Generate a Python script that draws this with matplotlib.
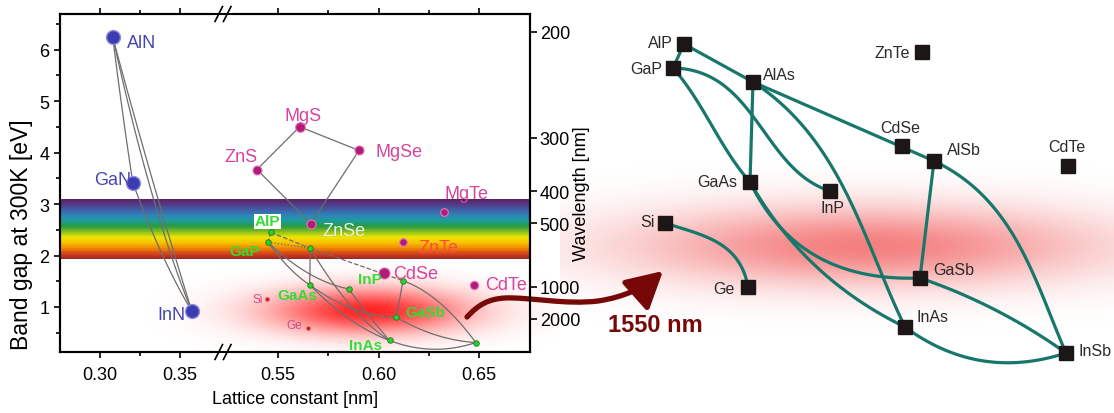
import numpy as np
import matplotlib
matplotlib.use("Agg")
import matplotlib.pyplot as plt
from matplotlib.colors import LinearSegmentedColormap, to_rgb
from matplotlib.patches import FancyArrowPatch
from matplotlib.path import Path
from matplotlib.ticker import FixedLocator

plt.rcParams['font.family'] = ['Liberation Sans', 'DejaVu Sans']

# ---------------- left panel data: lattice constant [nm], band gap at 300K [eV]
nitride_names = ["AlN", "GaN", "InN"]
nitride_a = [0.308, 0.3206, 0.3575]
nitride_eg = [6.24, 3.41, 0.92]

ii_vi_names = ["ZnS", "MgS", "MgSe", "ZnSe", "MgTe", "ZnTe", "CdSe", "CdTe"]
ii_vi_a = [0.5394, 0.5607, 0.5903, 0.5663, 0.6327, 0.6120, 0.6028, 0.6477]
ii_vi_eg = [3.67, 4.50, 4.04, 2.62, 2.84, 2.26, 1.66, 1.43]

iii_v_names = ["AlP", "GaP", "AlAs", "GaAs", "InP", "AlSb", "GaSb", "InAs", "InSb"]
iii_v_a = [0.5463, 0.5449, 0.5660, 0.5657, 0.5852, 0.6122, 0.6089, 0.6055, 0.6485]
iii_v_eg = [2.45, 2.26, 2.14, 1.43, 1.35, 1.51, 0.80, 0.35, 0.31]

iv_names = ["Si", "Ge"]
iv_a = [0.5442, 0.5648]
iv_eg = [1.155, 0.586]

# alloy lines: (end A, end B, bowing [eV], linestyle)
left_edges = [
    ("AlN", "GaN", 0.3, "-"), ("GaN", "InN", 0.6, "-"),
    ("AlN", "InN", 0.4, "-"), ("AlN", "InN", 1.6, "-"),
    ("ZnS", "MgS", 0, "-"), ("MgS", "MgSe", 0, "-"),
    ("MgSe", "ZnSe", 0, "-"), ("ZnS", "ZnSe", 0, "-"),
    ("AlP", "GaP", 0, "--"), ("AlP", "AlAs", 0, "--"), ("GaP", "AlAs", 0, ":"),
    ("AlAs", "AlSb", 0, "--"), ("GaP", "GaAs", 0.3, "-"), ("GaP", "InP", 0.6, "-"),
    ("AlAs", "GaAs", 0, "-"), ("AlAs", "InAs", 0.8, "-"), ("GaAs", "InAs", 0.5, "-"),
    ("GaAs", "GaSb", 0.6, "-"), ("InP", "InAs", 0.1, "-"), ("AlSb", "GaSb", 0, "-"),
    ("AlSb", "InSb", -0.7, "-"), ("GaSb", "InSb", 0.4, "-"), ("InAs", "InSb", 0.6, "-"),
]

wl_ticks = [200, 300, 400, 500, 1000, 2000]
band_range = (1.93, 3.10)
band_colors = ["#a02424", "#d8461a", "#f08c00", "#f8c400", "#ece400", "#86be22",
               "#2a9a3e", "#1c9c98", "#2c86b8", "#3e62a8", "#523c88", "#5c2266"]

# ---------------- right panel (schematic) node positions
node_names = ["AlP", "GaP", "AlAs", "ZnTe", "CdSe", "AlSb", "CdTe", "GaAs",
              "InP", "Si", "Ge", "GaSb", "InAs", "InSb"]
node_x = [684, 673, 753, 922, 902, 934, 1068, 750, 830, 665, 748, 920, 905, 1066]
node_y = [45, 69, 83, 53, 147, 162, 167, 183, 192, 224, 288, 279, 328, 354]
# (A, B, bend near A, bend near B)
right_edges = [
    ("AlP", "GaP", 0, 0), ("AlP", "AlAs", 0, 0), ("GaP", "InP", -50, 25),
    ("GaP", "GaAs", -6, 6), ("AlAs", "GaAs", 0, 0), ("AlAs", "AlSb", 0, 0),
    ("AlAs", "InAs", -45, -10), ("AlSb", "GaSb", 0, 0), ("AlSb", "InSb", -45, -15),
    ("GaAs", "InAs", 22, 22), ("GaAs", "GaSb", 45, 40), ("GaSb", "InSb", -8, -8),
    ("InAs", "InSb", 28, 28), ("Si", "Ge", -12, -32),
]

# ---------------- label placement (pixel offsets, ha)
left_lbl = {
    "AlN": (14, 5, "left"), "GaN": (-2, -3, "right"), "InN": (-6, 3, "right"),
    "ZnS": (-16, -13, "center"), "MgS": (3, -11, "center"), "MgSe": (16, 1, "left"),
    "MgTe": (22, -19, "center"), "ZnSe": (11, 7, "left"), "ZnTe": (16, 5, "left"),
    "CdSe": (9, 0, "left"), "CdTe": (11, 0, "left"),
    "Si": (-4, 0, "right"), "Ge": (-6, -3, "right"),
    "AlP": (-3, -11, "center"), "GaP": (-23, 9, "center"), "GaAs": (-12, 10, "center"),
    "InP": (9, -10, "left"), "GaSb": (9, -5, "left"), "InAs": (-24, 5, "center"),
}
right_lbl = {
    "AlP": (-11, -2, "right"), "GaP": (-11, 1, "right"), "AlAs": (10, -7, "left"),
    "ZnTe": (-12, 0, "right"), "CdSe": (-2, -18, "center"), "AlSb": (13, -11, "left"),
    "CdTe": (-1, -19, "center"), "GaAs": (-13, 0, "right"), "InP": (3, 17, "center"),
    "Si": (-10, -1, "right"), "Ge": (-13, 2, "right"), "GaSb": (13, -8, "left"),
    "InAs": (12, -10, "left"), "InSb": (12, -2, "left"),
}

PX = 72 / 100.0  # pixel -> points
W, H = 1114, 414
fig = plt.figure(figsize=(W / 100, H / 100), dpi=100)

# background canvas in pixel units: glows, arrow, schematic
bg = fig.add_axes([0, 0, 1, 1], zorder=0)
bg.set_xlim(0, W)
bg.set_ylim(H, 0)
bg.axis("off")


def glow(cx, cy, sx, sy, color, peak, extent):
    x0, x1, y0, y1 = extent
    xx, yy = np.meshgrid(np.linspace(x0, x1, 400), np.linspace(y0, y1, 160))
    a = peak * np.exp(-0.5 * ((xx - cx) / sx) ** 2 - 0.5 * ((yy - cy) / sy) ** 2)
    img = np.zeros(xx.shape + (4,))
    img[..., :3] = to_rgb(color)
    img[..., 3] = a
    bg.imshow(img, extent=(x0, x1, y1, y0), origin="upper", aspect="auto",
              interpolation="bilinear", zorder=0)


glow(368, 312, 70, 16, "#ff1818", 0.95, (150, 560, 250, 360))
glow(865, 247, 165, 28, "#ee2a2a", 0.6, (560, 1114, 160, 340))
bg.set_xlim(0, W)
bg.set_ylim(H, 0)

# schematic lines
pos = {n: np.array([x, y], float) for n, x, y in zip(node_names, node_x, node_y)}
t = np.linspace(0, 1, 60)[:, None]
for a, b, b1, b2 in right_edges:
    p0, p3 = pos[a], pos[b]
    d = p3 - p0
    nrm = np.array([-d[1], d[0]]) / np.hypot(*d)
    p1 = p0 + d / 3 + b1 * nrm
    p2 = p0 + 2 * d / 3 + b2 * nrm
    c = (1 - t) ** 3 * p0 + 3 * (1 - t) ** 2 * t * p1 + 3 * (1 - t) * t ** 2 * p2 + t ** 3 * p3
    bg.plot(c[:, 0], c[:, 1], color="#17776b", lw=2.3, solid_capstyle="round", zorder=2)
bg.plot(node_x, node_y, "s", color="#1c1616", ms=9.5, ls="none", zorder=3)
for n, x, y in zip(node_names, node_x, node_y):
    dx, dy, ha = right_lbl[n]
    bg.annotate(n, (x, y), xytext=(dx * PX, -dy * PX), textcoords="offset points",
                ha=ha, va="center", fontsize=11.5, color="#2a2a2a", zorder=4)

# arrow + 1550 nm
verts = [(467, 318), (478, 306), (488, 300), (505, 299),
         (530, 298), (565, 306), (598, 302),
         (625, 298), (645, 288), (663, 272)]
codes = [Path.MOVETO] + [Path.CURVE4] * 9
arr = FancyArrowPatch(path=Path(verts, codes), arrowstyle="-|>,head_length=22,head_width=12",
                      mutation_scale=1, lw=3.8, color="#760808", shrinkA=0, shrinkB=0, zorder=5)
bg.add_patch(arr)
bg.text(655, 326, "1550 nm", fontsize=17, fontweight="bold", color="#760808",
        ha="center", va="center", zorder=5)

# ---------------- left panel: broken lattice-constant axis
a1, b1, a2, b2 = 0.275, 0.377, 0.5225, 0.6755
w1, w2, gap = 163.0, 307.0, 0.01


def fwd(x):
    x = np.asarray(x, float)
    return np.where(x <= b1, (x - a1) / (b1 - a1) * w1,
                    np.where(x >= a2, w1 + gap + (x - a2) / (b2 - a2) * w2,
                             w1 + (x - b1) / (a2 - b1) * gap))


def inv(u):
    u = np.asarray(u, float)
    return np.where(u <= w1, a1 + u / w1 * (b1 - a1),
                    np.where(u >= w1 + gap, a2 + (u - w1 - gap) / w2 * (b2 - a2),
                             b1 + (u - w1) / gap * (a2 - b1)))


ax = fig.add_axes([60 / W, 1 - 353 / H, 470 / W, 338 / H], zorder=1)
ax.patch.set_alpha(0)
ax.set_xscale("function", functions=(fwd, inv))
ax.set_xlim(a1, b2)
ax.set_ylim(0.126, 6.69)

# visible-light band
cmap = LinearSegmentedColormap.from_list("band", band_colors)
edges = np.linspace(band_range[0], band_range[1], 80)
for i in range(len(edges) - 1):
    ax.axhspan(edges[i], edges[i + 1], color=cmap(i / (len(edges) - 2)), lw=0, zorder=1)

allpts = {}
for names, xs, ys in [(nitride_names, nitride_a, nitride_eg), (ii_vi_names, ii_vi_a, ii_vi_eg),
                      (iii_v_names, iii_v_a, iii_v_eg), (iv_names, iv_a, iv_eg)]:
    for n, x, y in zip(names, xs, ys):
        allpts[n] = (x, y)

tt = np.linspace(0, 1, 40)
for a, b, bow, ls in left_edges:
    (xa, ya), (xb, yb) = allpts[a], allpts[b]
    xs = xa + (xb - xa) * tt
    ys = ya + (yb - ya) * tt - bow * tt * (1 - tt)
    ax.plot(xs, ys, color="#6e6e6e", lw=0.9, ls=ls, zorder=2)

ax.plot(nitride_a, nitride_eg, "o", ms=10, mfc="#3c3cb2", mec="#8c8cd8", mew=1, ls="none", zorder=4)
ii_sizes = [6.5, 7, 6.5, 6.5, 5.5, 5.5, 8, 6]
for x, y, s in zip(ii_vi_a, ii_vi_eg, ii_sizes):
    ax.plot(x, y, "o", ms=s, mfc="#b01c7a", mec="#e878b8", mew=0.8, zorder=4)
ax.plot(iii_v_a, iii_v_eg, "o", ms=4, mfc="#2ed02e", mec="#1f7a1f", mew=0.6, ls="none", zorder=4)
ax.plot(iv_a, iv_eg, "o", ms=3.5, mfc="#cc2222", mec="#f0a0a0", mew=0.6, ls="none", zorder=4)

lbl_style = {}
for n in nitride_names:
    lbl_style[n] = dict(color="#4646b4", fontsize=13)
for n in ii_vi_names:
    lbl_style[n] = dict(color="#d8449c", fontsize=13)
lbl_style["ZnSe"] = dict(color="#ececec", fontsize=13)
lbl_style["ZnTe"] = dict(color="#ff4a3c", fontsize=13)
for n in iii_v_names:
    lbl_style[n] = dict(color="#33dd33", fontsize=11, fontweight="bold")
for n in iv_names:
    lbl_style[n] = dict(color="#c8508a", fontsize=8.5)

for n, (dx, dy, ha) in left_lbl.items():
    kw = dict(lbl_style[n])
    if n == "AlP":
        kw["bbox"] = dict(facecolor="white", edgecolor="none", pad=0.6)
    ax.annotate(n, allpts[n], xytext=(dx * PX, -dy * PX), textcoords="offset points",
                ha=ha, va="center", zorder=6, **kw)

# ticks
ax.xaxis.set_major_locator(FixedLocator([0.30, 0.35, 0.55, 0.60, 0.65]))
ax.xaxis.set_minor_locator(FixedLocator([0.325, 0.575, 0.625]))
ax.xaxis.set_major_formatter(lambda v, p: "%.2f" % v)
ax.set_yticks([1, 2, 3, 4, 5, 6])
ax.set_yticks(np.arange(0.5, 6.6, 0.5), minor=True)
ax.tick_params(which="both", direction="out", top=True, labelsize=13, width=1.2, colors="black")
ax.tick_params(which="major", length=4)
ax.tick_params(which="minor", length=3)
ax.tick_params(axis="x", pad=6)
for s in ax.spines.values():
    s.set_linewidth(1.5)

ax2 = ax.twinx()
ax2.set_ylim(ax.get_ylim())
ax2.set_yticks([1240.0 / w + 0.15 for w in wl_ticks])
ax2.set_yticklabels([str(w) for w in wl_ticks])
ax2.tick_params(direction="out", length=5, width=1.2, labelsize=13, pad=2)
for s in ax2.spines.values():
    s.set_linewidth(1.5)

# axis-break marks
f = w1 / (w1 + gap + w2)
for yb in (0, 1):
    ax.plot([f - 0.016, f + 0.016], [yb, yb], transform=ax.transAxes, color="white",
            lw=3, clip_on=False, zorder=10)
    for off in (-0.009, 0.009):
        ax.plot([f + off - 0.008, f + off + 0.008], [yb - 0.022, yb + 0.022],
                transform=ax.transAxes, color="black", lw=1.2, clip_on=False, zorder=11)

fig.text(295 / W, 1 - 400 / H, "Lattice constant [nm]", fontsize=13, ha="center", va="center")
fig.text(22 / W, 1 - 235 / H, "Band gap at 300K [eV]", fontsize=16.5, rotation=90,
         ha="center", va="center")
fig.text(582 / W, 1 - 194 / H, "Wavelength [nm]", fontsize=13, rotation=90,
         ha="center", va="center")

fig.savefig("out.png", dpi=100)
